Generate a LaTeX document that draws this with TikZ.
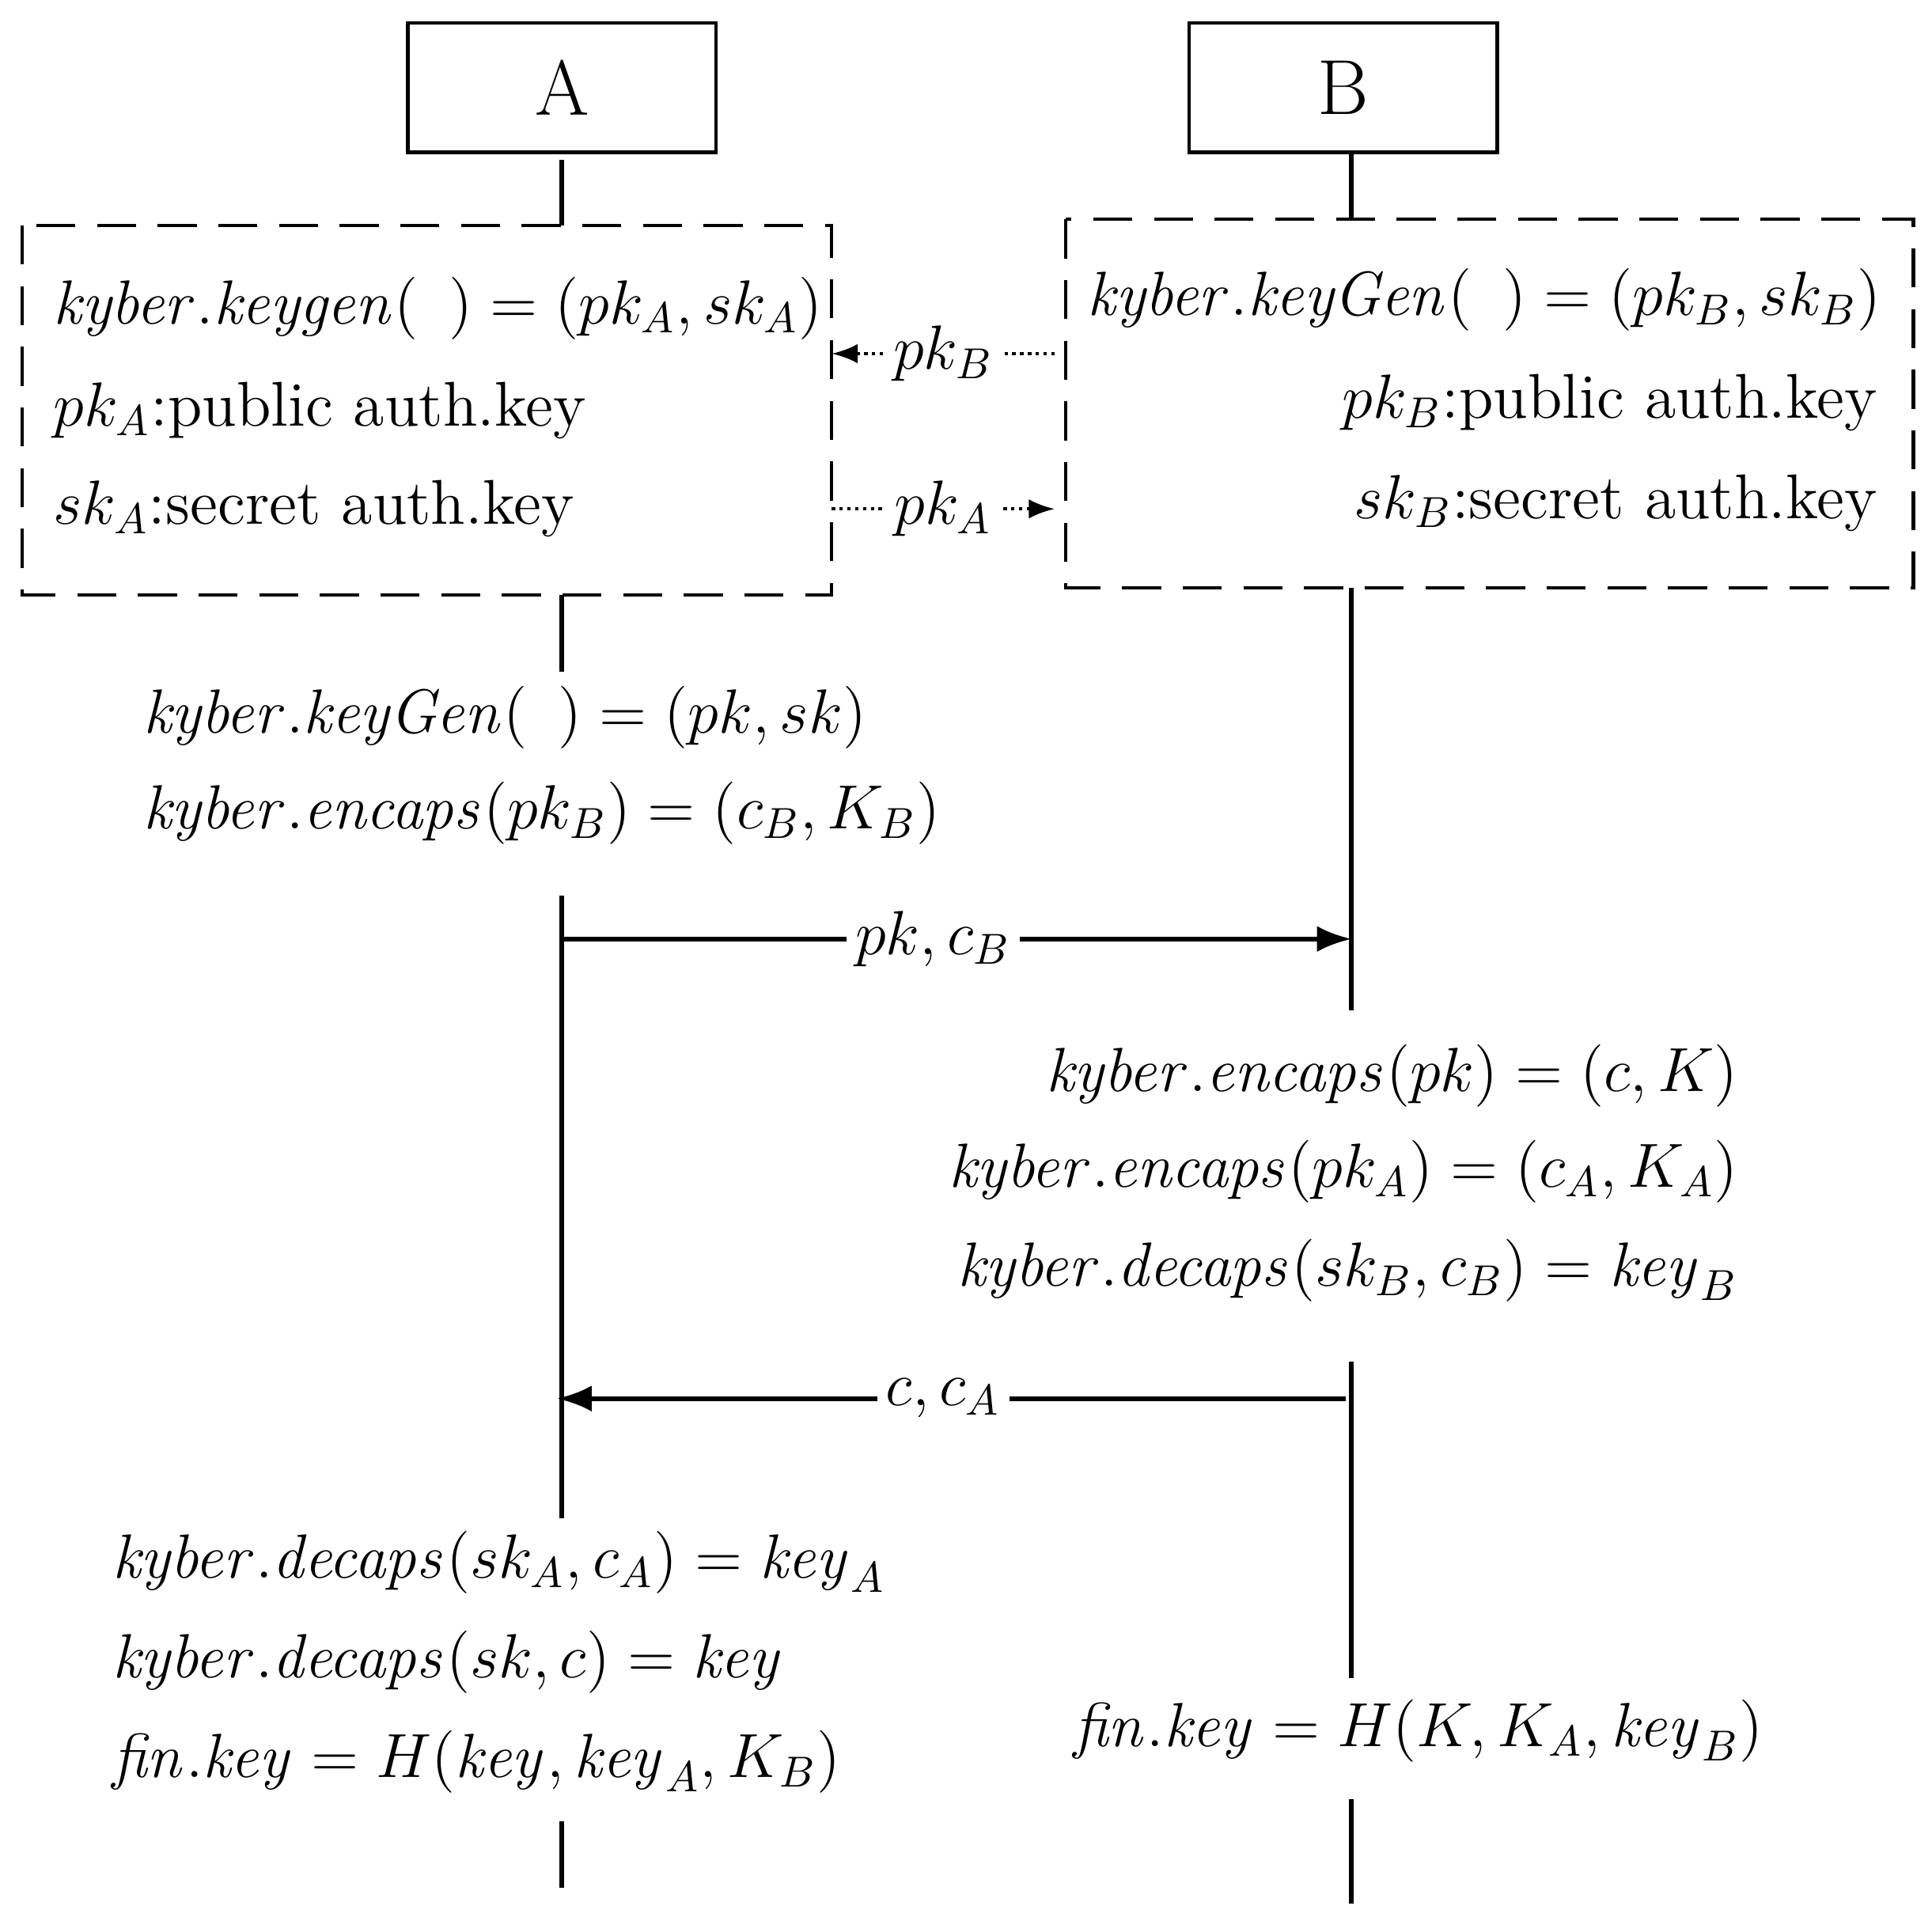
\documentclass[tikz,border=0pt]{standalone}
\usepackage{amsmath}
\usetikzlibrary{arrows.meta}
\begin{document}
\begin{tikzpicture}[x=0.01cm,y=-0.01cm,thick,
  every node/.style={font=\fontsize{14.6}{17}\selectfont},
  txt/.style={inner sep=0pt},
  party/.style={draw,minimum width=2.5cm,minimum height=1.05cm,font=\fontsize{18}{20}\selectfont},
  grp/.style={draw,dashed,dash pattern=on 9pt off 5pt},
  life/.style={line width=1.1pt},
  msg/.style={line width=1.1pt,-{Latex[length=8pt]}},
  xchg/.style={densely dotted,-{Latex[length=6pt]}},
  lbl/.style={fill=white,inner sep=2pt}]
\useasboundingbox (0,0) rectangle (1568,1559);
% parties
\node[party] (A) at (456,71) {A};
\node[party] (B) at (1090,71) {B};
% key setup boxes
\draw[grp] (18,183) rectangle (675,483);
\draw[grp] (865,178) rectangle (1553,477);
\node[txt,anchor=west] (a1) at (42,250) {$\mathit{kyber.keygen}(\ \,)=(pk_A,sk_A)$};
\node[txt,anchor=west] (a2) at (42,333) {$pk_A$:public\ auth.key};
\node[txt,anchor=west] (a3) at (42,413) {$sk_A$:secret\ auth.key};
\node[txt,anchor=east] (b1) at (1528,243) {$\mathit{kyber.keyGen}(\ \,)=(pk_B,sk_B)$};
\node[txt,anchor=east] (b2) at (1525,327) {$pk_B$:public\ auth.key};
\node[txt,anchor=east] (b3) at (1525,408) {$sk_B$:secret\ auth.key};
\coordinate (bl1) at (856,287); \coordinate (ar1) at (675,287);
\coordinate (ar2) at (675,413); \coordinate (bl2) at (856,413);
\draw[xchg] (bl1) -- node[lbl] {$pk_B$} (ar1);
\draw[xchg] (ar2) -- node[lbl] {$pk_A$} (bl2);
% lifelines
\coordinate (a0) at (456,130); \coordinate (a0e) at (456,183);
\coordinate (a4) at (456,483); \coordinate (a4e) at (456,545);
\coordinate (a5) at (456,727); \coordinate (a5e) at (456,1232);
\coordinate (a6) at (456,1478); \coordinate (a6e) at (456,1532);
\coordinate (bb0) at (1097,124); \coordinate (bb0e) at (1097,178);
\coordinate (bb4) at (1097,477); \coordinate (bb4e) at (1097,820);
\coordinate (bb5) at (1097,1105); \coordinate (bb5e) at (1097,1362);
\coordinate (bb6) at (1097,1460); \coordinate (bb6e) at (1097,1545);
\foreach \s/\e in {a0/a0e,a4/a4e,a5/a5e,a6/a6e,bb0/bb0e,bb4/bb4e,bb5/bb5e,bb6/bb6e}
  \draw[life] (\s) -- (\e);
% A computations
\node[txt,anchor=west] (t1) at (115,582) {$\mathit{kyber.keyGen}(\ \,)=(pk,sk)$};
\node[txt,anchor=west] (t2) at (115,660) {$\mathit{kyber.encaps}(pk_B)=(c_B,K_B)$};
% messages
\coordinate (m1s) at (456,762); \coordinate (m1e) at (1097,762);
\draw[msg] (m1s) -- node[lbl,pos=0.47] {$pk,c_B$} (m1e);
\node[txt,anchor=east] (t3) at (1412,873) {$\mathit{kyber.encaps}(pk)=(c,K)$};
\node[txt,anchor=east] (t4) at (1412,951) {$\mathit{kyber.encaps}(pk_A)=(c_A,K_A)$};
\node[txt,anchor=east] (t5) at (1412,1031) {$\mathit{kyber.decaps}(sk_B,c_B)=\mathit{key}_B$};
\coordinate (m2s) at (1092,1135); \coordinate (m2e) at (452,1135);
\draw[msg] (m2s) -- node[lbl,pos=0.51] {$c,c_A$} (m2e);
\node[txt,anchor=west] (t6) at (90,1268) {$\mathit{kyber.decaps}(sk_A,c_A)=\mathit{key}_A$};
\node[txt,anchor=west] (t7) at (90,1349) {$\mathit{kyber.decaps}(sk,c)=\mathit{key}$};
\node[txt,anchor=west] (t8) at (90,1430) {$\mathit{fin.key}=H(\mathit{key},\mathit{key}_A,K_B)$};
\node[txt,anchor=west] (t9) at (870,1405) {$\mathit{fin.key}=H(K,K_A,\mathit{key}_B)$};
\end{tikzpicture}
\end{document}
